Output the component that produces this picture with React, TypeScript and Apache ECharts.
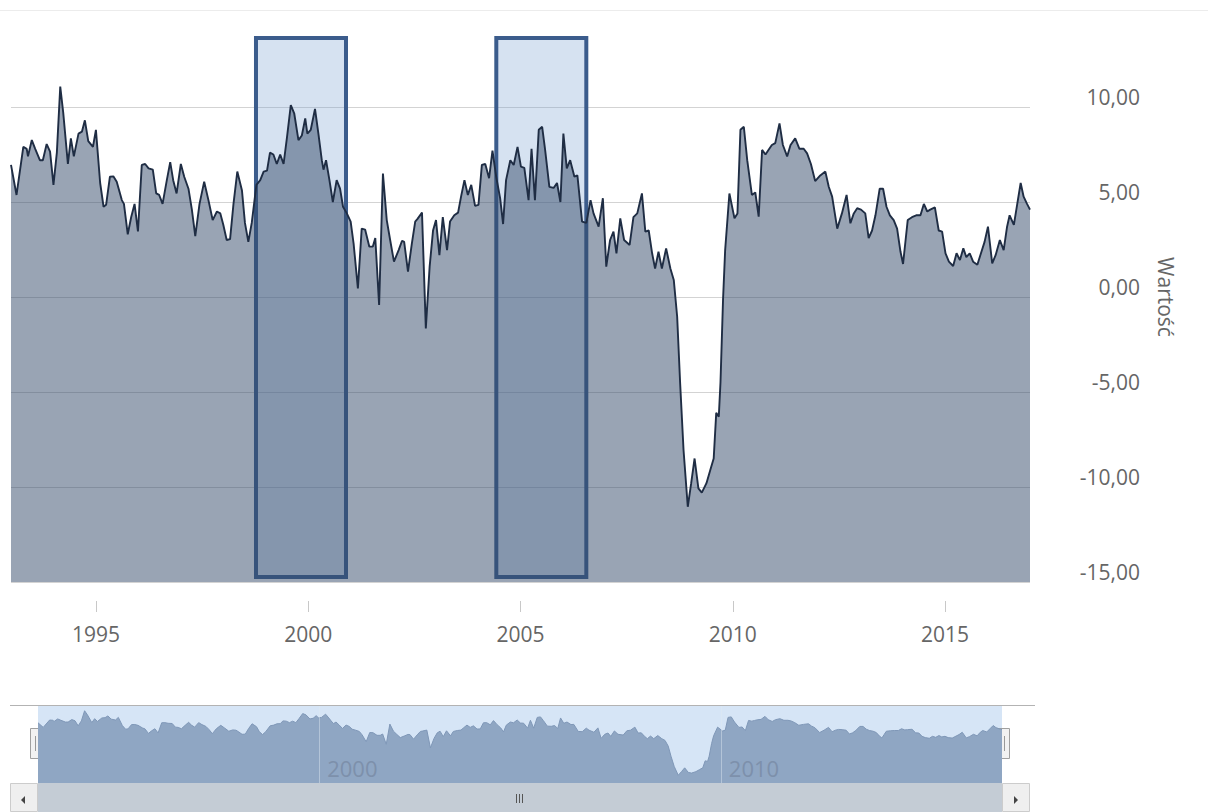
import React, { useEffect, useRef } from 'react';
import * as echarts from 'echarts';

// decimal year of each point
const years = [
  1993.00, 1993.13, 1993.29, 1993.37, 1993.40, 1993.49, 1993.57, 1993.68, 1993.75, 1993.84, 1993.92,
  1994.00, 1994.08, 1994.16, 1994.23, 1994.34, 1994.41, 1994.48, 1994.59, 1994.67, 1994.74, 1994.82, 1994.93,
  1995.00, 1995.10, 1995.18, 1995.24, 1995.33, 1995.41, 1995.49, 1995.61, 1995.66, 1995.75, 1995.83, 1995.91, 1995.99,
  1996.08, 1996.16, 1996.24, 1996.34, 1996.42, 1996.49, 1996.57, 1996.67, 1996.75, 1996.82, 1996.90,
  1997.00, 1997.08, 1997.18, 1997.26, 1997.34, 1997.44, 1997.55, 1997.65, 1997.75, 1997.85, 1997.93,
  1998.00, 1998.08, 1998.16, 1998.24, 1998.33, 1998.44, 1998.51, 1998.59, 1998.67, 1998.78, 1998.87, 1998.95,
  1999.03, 1999.10, 1999.18, 1999.26, 1999.34, 1999.42, 1999.50, 1999.59, 1999.67, 1999.77, 1999.85, 1999.93, 1999.98,
  2000.06, 2000.16, 2000.24, 2000.32, 2000.36, 2000.42, 2000.50, 2000.58, 2000.67, 2000.75, 2000.82, 2000.91,
  2001.00, 2001.07, 2001.17, 2001.26, 2001.34, 2001.44, 2001.52, 2001.58, 2001.67, 2001.76, 2001.85, 2001.93,
  2002.02, 2002.13, 2002.21, 2002.26, 2002.35, 2002.44, 2002.52, 2002.57, 2002.68, 2002.77, 2002.86, 2002.94,
  2003.01, 2003.09, 2003.17, 2003.27, 2003.34, 2003.44, 2003.53, 2003.60, 2003.68, 2003.76, 2003.84, 2003.93,
  2004.01, 2004.09, 2004.17, 2004.26, 2004.34, 2004.43, 2004.52, 2004.59, 2004.66, 2004.76, 2004.84, 2004.93,
  2005.01, 2005.09, 2005.19, 2005.26, 2005.34, 2005.43, 2005.51, 2005.58, 2005.68, 2005.78, 2005.86, 2005.94,
  2006.01, 2006.09, 2006.17, 2006.27, 2006.34, 2006.45, 2006.55, 2006.65, 2006.72, 2006.84, 2006.94,
  2007.02, 2007.11, 2007.19, 2007.26, 2007.35, 2007.44, 2007.57, 2007.66, 2007.75, 2007.86, 2007.94,
  2008.02, 2008.10, 2008.17, 2008.25, 2008.33, 2008.43, 2008.53, 2008.61, 2008.69, 2008.76, 2008.84, 2008.94,
  2009.02, 2009.10, 2009.19, 2009.27, 2009.38, 2009.47, 2009.55, 2009.61, 2009.67, 2009.71, 2009.77, 2009.82, 2009.92,
  2010.04, 2010.11, 2010.18, 2010.26, 2010.34, 2010.45, 2010.53, 2010.61, 2010.69, 2010.77, 2010.84, 2010.92,
  2011.00, 2011.10, 2011.18, 2011.28, 2011.36, 2011.47, 2011.57, 2011.67, 2011.75, 2011.84, 2011.94,
  2012.06, 2012.18, 2012.26, 2012.34, 2012.46, 2012.57, 2012.68, 2012.77, 2012.85, 2012.93,
  2013.02, 2013.12, 2013.20, 2013.28, 2013.36, 2013.46, 2013.54, 2013.62, 2013.70, 2013.79, 2013.87, 2013.95,
  2014.01, 2014.07, 2014.12, 2014.22, 2014.32, 2014.42, 2014.50, 2014.58, 2014.65, 2014.76, 2014.85, 2014.93,
  2015.01, 2015.09, 2015.19, 2015.27, 2015.35, 2015.43, 2015.50, 2015.58, 2015.66, 2015.76, 2015.83, 2015.93,
  2016.01, 2016.11, 2016.19, 2016.29, 2016.38, 2016.46, 2016.52, 2016.62, 2016.70, 2016.78, 2016.85, 2016.93,
  2017.00,
];

const values = [
  6.95, 5.37, 7.9, 7.8, 7.4, 8.26, 7.8, 7.2, 7.2, 8.05, 7.65,
  5.9, 7.6, 11.07, 9.7, 7.0, 8.35, 7.4, 8.6, 8.7, 9.3, 8.2, 7.9,
  8.8, 6.0, 4.75, 4.85, 6.33, 6.35, 6.07, 5.1, 4.9, 3.3, 4.2, 4.9, 3.45,
  6.95, 7.0, 6.77, 6.7, 5.45, 5.37, 4.9, 6.15, 7.1, 6.15, 5.45,
  7.0, 6.33, 5.7, 4.6, 3.2, 4.9, 6.07, 5.1, 4.05, 4.5, 4.4,
  3.8, 3.0, 3.05, 4.9, 6.6, 5.6, 3.9, 2.9, 3.9, 5.9, 6.15, 6.6,
  6.65, 7.6, 7.5, 7.0, 7.5, 7.0, 8.4, 10.1, 9.67, 8.26, 8.5, 9.4, 8.6,
  8.8, 9.9, 8.6, 7.2, 6.7, 7.2, 6.15, 5.0, 6.15, 5.7, 4.75, 4.4,
  3.97, 2.8, 0.45, 3.6, 3.55, 2.65, 2.65, 3.1, -0.42, 6.5, 4.05, 3.0,
  1.86, 2.47, 2.96, 2.9, 1.33, 2.8, 3.97, 4.1, 4.44, -1.65, 1.6, 3.5,
  4.05, 2.2, 4.2, 2.47, 3.97, 4.3, 4.44, 5.28, 6.15, 5.37, 5.9, 4.8,
  4.85, 6.95, 7.0, 6.25, 7.7, 6.3, 5.2, 3.84, 6.15, 7.2, 6.95, 7.9,
  6.86, 6.8, 5.1, 7.8, 5.1, 8.8, 8.96, 7.74, 5.8, 5.74, 6.0, 5.0,
  8.6, 6.77, 7.2, 6.33, 6.4, 3.97, 3.9, 5.1, 4.4, 3.7, 5.2,
  1.6, 3.0, 3.44, 2.3, 4.14, 3.0, 2.74, 4.2, 4.4, 5.45, 3.44,
  3.5, 2.3, 1.5, 2.38, 1.5, 2.56, 1.5, 0.9, -1.04, -4.54, -8.05, -11.04,
  -9.8, -8.5, -10.07, -10.3, -9.8, -9.1, -8.5, -6.1, -6.3, -4.5, -0.16, 2.47, 5.45,
  4.14, 4.4, 8.8, 8.96, 7.2, 5.37, 5.5, 4.23, 7.74, 7.5, 7.74, 8.0,
  8.1, 9.14, 8.0, 7.4, 8.0, 8.35, 7.8, 7.8, 7.56, 7.0, 6.1,
  6.4, 6.6, 5.8, 5.28, 3.6, 4.4, 5.37, 3.88, 4.4, 4.67,
  4.6, 4.4, 3.1, 3.5, 4.3, 5.7, 5.7, 4.75, 4.3, 4.05, 3.6, 2.38,
  1.74, 3.0, 4.05, 4.2, 4.3, 4.3, 4.9, 4.5, 4.6, 4.72, 3.5, 3.44,
  2.3, 1.86, 1.63, 2.3, 1.95, 2.56, 2.1, 2.3, 1.86, 1.7, 2.2, 2.9,
  3.7, 1.77, 2.2, 3.0, 2.47, 3.7, 4.3, 3.8, 4.9, 6.0, 5.28, 4.9,
  4.6,
];

const yearTicks = [1995, 2000, 2005, 2010, 2015];
const navigatorTicks = [2000, 2010];
const highlightStarts = [1998.77, 2004.43];
const highlightEnds = [2000.89, 2006.55];
const highlightTop = 13.63;
const highlightBottom = -14.74;
const xMin = 1993;
const xMax = 2017;
const yMin = -15;
const yMax = 15;
const yStep = 5;
const navMin = -13.7;
const navMax = 12.7;

const fmt = (v: number) => v.toFixed(2).replace('.', ',');
const yearFmt = (v: number) => String(Math.round(v));

export default function App() {
  const ref = useRef<HTMLDivElement>(null);

  useEffect(() => {
    if (!ref.current) return;
    const chart = echarts.init(ref.current, undefined, { renderer: 'svg' });
    const data = years.map((y, i) => [y, values[i]]);
    const font = 'Open Sans';

    const option: any = {
      animation: false,
      textStyle: { fontFamily: font },
      grid: [
        { left: 11, top: 12, width: 1019, height: 570 },
        { left: 38, top: 706, width: 964, height: 77, show: true, backgroundColor: '#d6e5f6', borderWidth: 0 },
      ],
      xAxis: [
        {
          type: 'value', gridIndex: 0, min: xMin, max: xMax, offset: 19,
          axisLine: { show: false, onZero: false }, splitLine: { show: false },
          axisTick: { show: true, customValues: yearTicks, length: 11, lineStyle: { color: '#c8c8c8' } },
          axisLabel: { customValues: yearTicks, formatter: yearFmt, margin: 22, fontSize: 21, color: '#666', fontFamily: font },
        },
        {
          type: 'value', gridIndex: 1, min: xMin, max: xMax, z: 5,
          axisLine: { show: false, onZero: false }, splitLine: { show: false },
          axisTick: { show: true, inside: true, customValues: navigatorTicks, length: 77, lineStyle: { color: 'rgba(225,232,242,0.45)' } },
          axisLabel: {
            customValues: navigatorTicks, formatter: yearFmt, inside: true, margin: 15, align: 'left', padding: [0, 0, 0, 8],
            verticalAlign: 'middle', fontSize: 22, color: '#7d90ab', fontFamily: font,
          },
        },
      ],
      yAxis: [
        {
          type: 'value', gridIndex: 0, position: 'right', min: yMin, max: yMax, interval: yStep,
          axisLine: { show: false }, axisTick: { show: false },
          splitLine: { show: true, showMaxLine: false, lineStyle: { color: '#d3d3d3', width: 1 } },
          axisLabel: {
            showMaxLabel: false, formatter: fmt, align: 'right', margin: 110, verticalAlign: 'bottom',
            fontSize: 21, color: '#666', fontFamily: font,
          },
          name: 'Wartość', nameLocation: 'middle', nameRotate: -90, nameGap: 125,
          nameTextStyle: { fontSize: 21, color: '#666', fontFamily: font },
        },
        { type: 'value', gridIndex: 1, min: navMin, max: navMax, show: false },
      ],
      series: [
        {
          type: 'line', xAxisIndex: 0, yAxisIndex: 0, data, symbol: 'none', silent: true,
          lineStyle: { color: '#1f2d44', width: 1.9 },
          areaStyle: { color: 'rgba(52,74,106,0.5)', origin: 'start', opacity: 1 },
          markArea: {
            silent: true,
            itemStyle: { color: 'rgba(120,160,210,0.3)', borderColor: '#3b5c8c', borderWidth: 4 },
            data: highlightStarts.map((a, i) => [
              { xAxis: a, yAxis: highlightTop },
              { xAxis: highlightEnds[i], yAxis: highlightBottom },
            ]),
          },
        },
        {
          type: 'line', xAxisIndex: 1, yAxisIndex: 1, data, symbol: 'none', silent: true,
          lineStyle: { color: '#7f97b7', width: 1 },
          areaStyle: { color: '#8fa6c3', origin: 'start', opacity: 1 },
        },
      ],
      graphic: [
        { type: 'line', silent: true, shape: { x1: 0, y1: 10.5, x2: 1208, y2: 10.5 }, style: { stroke: '#ececec', lineWidth: 1 } },
        { type: 'line', silent: true, shape: { x1: 10, y1: 705.5, x2: 1035, y2: 705.5 }, style: { stroke: '#b3b3b3', lineWidth: 1 } },
        // scrollbar
        { type: 'rect', silent: true, shape: { x: 38, y: 783, width: 964, height: 29 }, style: { fill: '#c4ccd5' } },
        { type: 'rect', silent: true, shape: { x: 10.5, y: 783.5, width: 27, height: 28 }, style: { fill: '#efefef', stroke: '#cccccc', lineWidth: 1 } },
        { type: 'rect', silent: true, shape: { x: 1002.5, y: 783.5, width: 27, height: 28 }, style: { fill: '#efefef', stroke: '#cccccc', lineWidth: 1 } },
        { type: 'polygon', silent: true, shape: { points: [[21, 800], [25, 796], [25, 804]] }, style: { fill: '#444' } },
        { type: 'polygon', silent: true, shape: { points: [[1014, 796], [1014, 804], [1018, 800]] }, style: { fill: '#444' } },
        { type: 'line', silent: true, shape: { x1: 516.5, y1: 794, x2: 516.5, y2: 803 }, style: { stroke: '#555', lineWidth: 1 } },
        { type: 'line', silent: true, shape: { x1: 519.5, y1: 794, x2: 519.5, y2: 803 }, style: { stroke: '#555', lineWidth: 1 } },
        { type: 'line', silent: true, shape: { x1: 522.5, y1: 794, x2: 522.5, y2: 803 }, style: { stroke: '#555', lineWidth: 1 } },
        // navigator handles
        { type: 'rect', silent: true, shape: { x: 30.5, y: 728.5, width: 14, height: 30 }, style: { fill: '#f2f2f2', stroke: '#a0a0a0', lineWidth: 1 } },
        { type: 'line', silent: true, shape: { x1: 35.5, y1: 736, x2: 35.5, y2: 751 }, style: { stroke: '#999', lineWidth: 1 } },
        { type: 'line', silent: true, shape: { x1: 39.5, y1: 736, x2: 39.5, y2: 751 }, style: { stroke: '#999', lineWidth: 1 } },
        { type: 'rect', silent: true, shape: { x: 995.5, y: 728.5, width: 14, height: 30 }, style: { fill: '#f2f2f2', stroke: '#a0a0a0', lineWidth: 1 } },
        { type: 'line', silent: true, shape: { x1: 1000.5, y1: 736, x2: 1000.5, y2: 751 }, style: { stroke: '#999', lineWidth: 1 } },
        { type: 'line', silent: true, shape: { x1: 1004.5, y1: 736, x2: 1004.5, y2: 751 }, style: { stroke: '#999', lineWidth: 1 } },
      ],
    };

    chart.setOption(option);
    return () => chart.dispose();
  }, []);

  return (
    <div
      ref={ref}
      style={{ position: 'absolute', left: 0, top: 0, width: 1208, height: 812, background: '#fff' }}
    />
  );
}
